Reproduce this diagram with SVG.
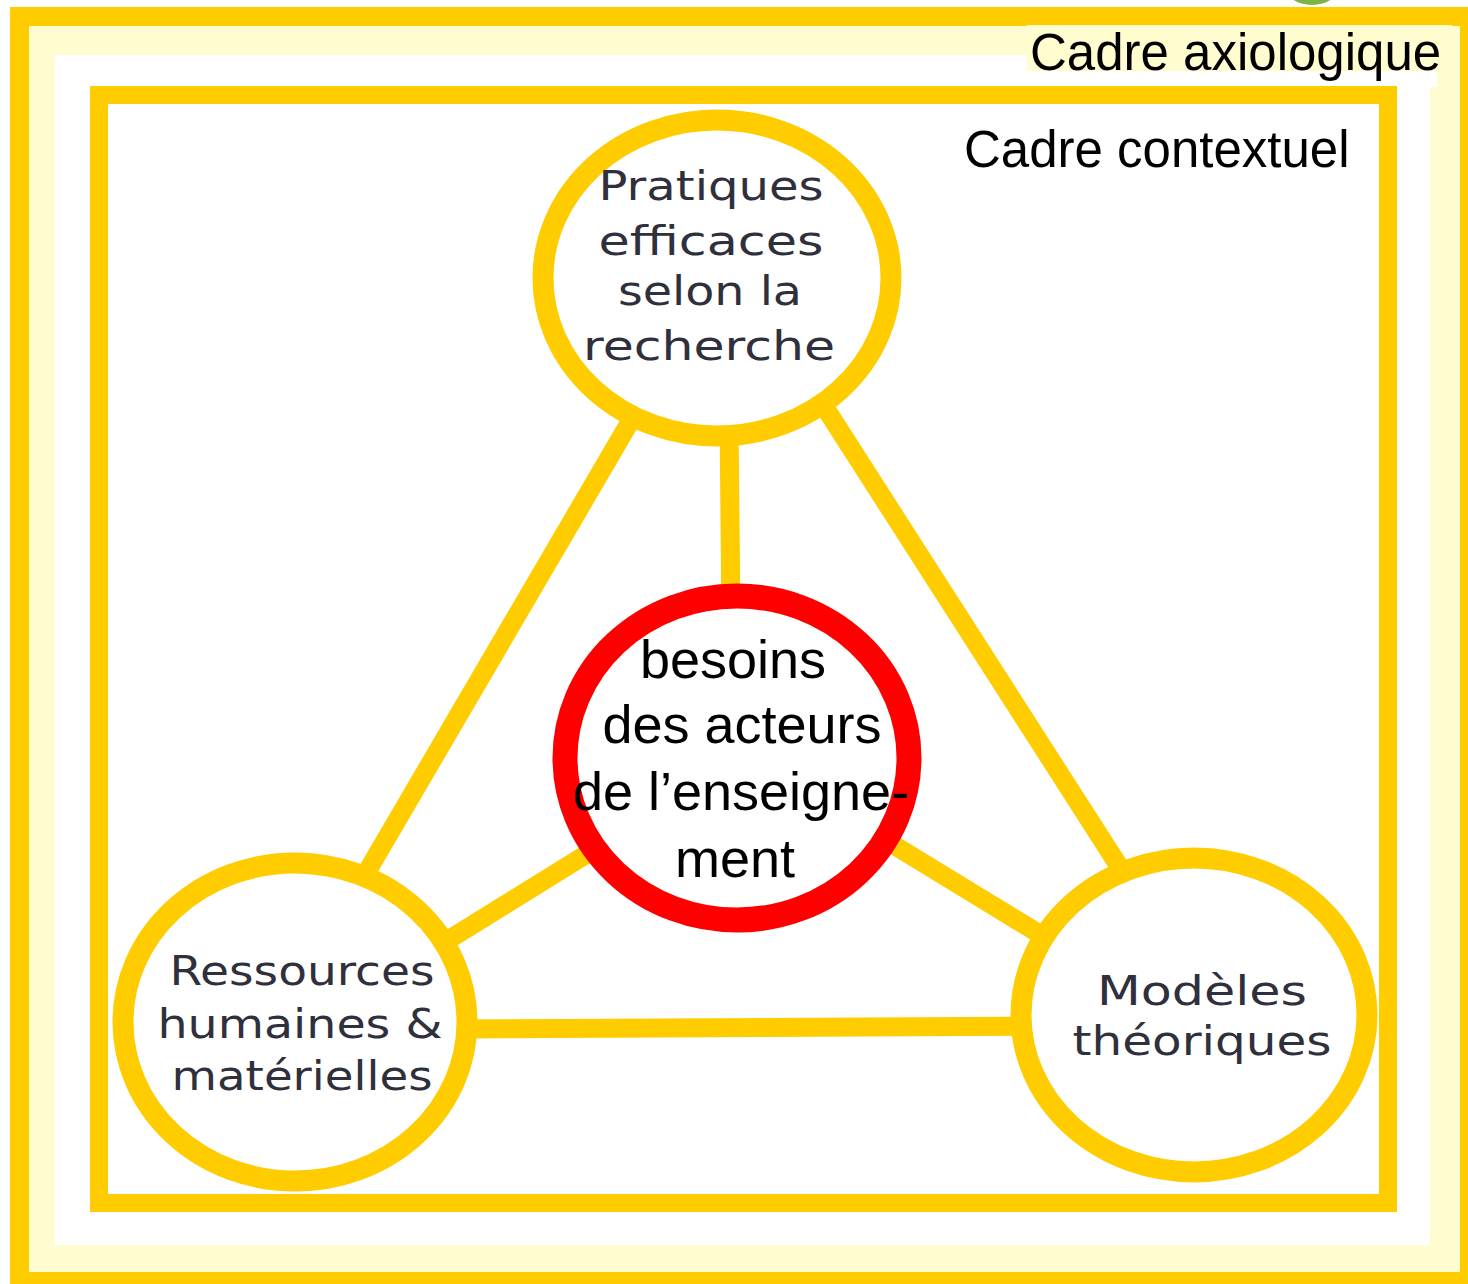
<svg xmlns="http://www.w3.org/2000/svg" width="1468" height="1284" viewBox="0 0 1468 1284">
<style>
.frame{fill:none;stroke:#FFCC00}
.conn{stroke:#FFCC00;stroke-width:19;stroke-linecap:butt}
.ring{fill:#FFFFFF;stroke:#FFCC00;stroke-width:21}
.core{fill:#FFFFFF;stroke:#FF0000;stroke-width:25}
.lbl{font-family:"Liberation Sans",Arial,sans-serif;font-size:51px;fill:#000}
.gt{font-family:"DejaVu Sans","Noto Sans",sans-serif;font-size:40px;fill:#30303c;text-anchor:middle}
.ct{font-family:"Liberation Sans",Arial,sans-serif;font-size:54px;fill:#000;text-anchor:middle}
</style>
<rect width="1468" height="1284" fill="#FFFFFF"/>
<ellipse cx="1312" cy="-14" rx="27" ry="19" fill="#7CB342"/>
<g id="frame-axiologique">
<rect x="29" y="26" width="1431" height="1246" fill="#FFFDD0"/>
<rect x="55" y="55" width="1375" height="1190" fill="#FFFFFF"/>
<rect class="frame" x="19.5" y="16.5" width="1450" height="1265" stroke-width="19"/>
<rect x="1027" y="25" width="425" height="46" fill="#FFFDD0"/>
<rect x="1027" y="71" width="410" height="16" fill="#FFFFFF"/>
<text class="lbl" x="1030" y="70">Cadre axiologique</text>
</g>
<g id="frame-contextuel">
<rect class="frame" x="99" y="95" width="1289" height="1108" stroke-width="18"/>
<text class="lbl" x="964" y="167">Cadre contextuel</text>
</g>
<g id="connectors">
<line class="conn" x1="729" y1="420" x2="731" y2="620"/>
<line class="conn" x1="651" y1="386" x2="344" y2="911"/>
<line class="conn" x1="808" y1="381" x2="1140" y2="899"/>
<line class="conn" x1="624" y1="831" x2="411" y2="963"/>
<line class="conn" x1="856" y1="822" x2="1074" y2="955"/>
<line class="conn" x1="440" y1="1029" x2="1045" y2="1026"/>
</g>
<g id="node-pratiques">
<ellipse class="ring" cx="717" cy="278" rx="174" ry="158"/>
<text class="gt" x="711" y="200" textLength="225" lengthAdjust="spacingAndGlyphs">Pratiques</text>
<text class="gt" x="711" y="255" textLength="225" lengthAdjust="spacingAndGlyphs">efficaces</text>
<text class="gt" x="710" y="305" textLength="184" lengthAdjust="spacingAndGlyphs">selon la</text>
<text class="gt" x="709" y="360" textLength="252" lengthAdjust="spacingAndGlyphs">recherche</text>
</g>
<g id="node-ressources">
<ellipse class="ring" cx="295" cy="1022" rx="172" ry="159"/>
<text class="gt" x="302" y="985" textLength="265" lengthAdjust="spacingAndGlyphs">Ressources</text>
<text class="gt" x="300" y="1038" textLength="285" lengthAdjust="spacingAndGlyphs">humaines &amp;</text>
<text class="gt" x="302" y="1090" textLength="261" lengthAdjust="spacingAndGlyphs">matérielles</text>
</g>
<g id="node-modeles">
<ellipse class="ring" cx="1194" cy="1015" rx="173" ry="157"/>
<text class="gt" x="1202" y="1005" textLength="210" lengthAdjust="spacingAndGlyphs">Modèles</text>
<text class="gt" x="1202" y="1055" textLength="259" lengthAdjust="spacingAndGlyphs">théoriques</text>
</g>
<g id="node-besoins">
<ellipse class="core" cx="737" cy="758" rx="172" ry="162"/>
<text class="ct" x="733" y="678">besoins</text>
<text class="ct" x="742" y="743">des acteurs</text>
<text class="ct" x="741" y="810">de l’enseigne-</text>
<text class="ct" x="735" y="877">ment</text>
</g>
</svg>
